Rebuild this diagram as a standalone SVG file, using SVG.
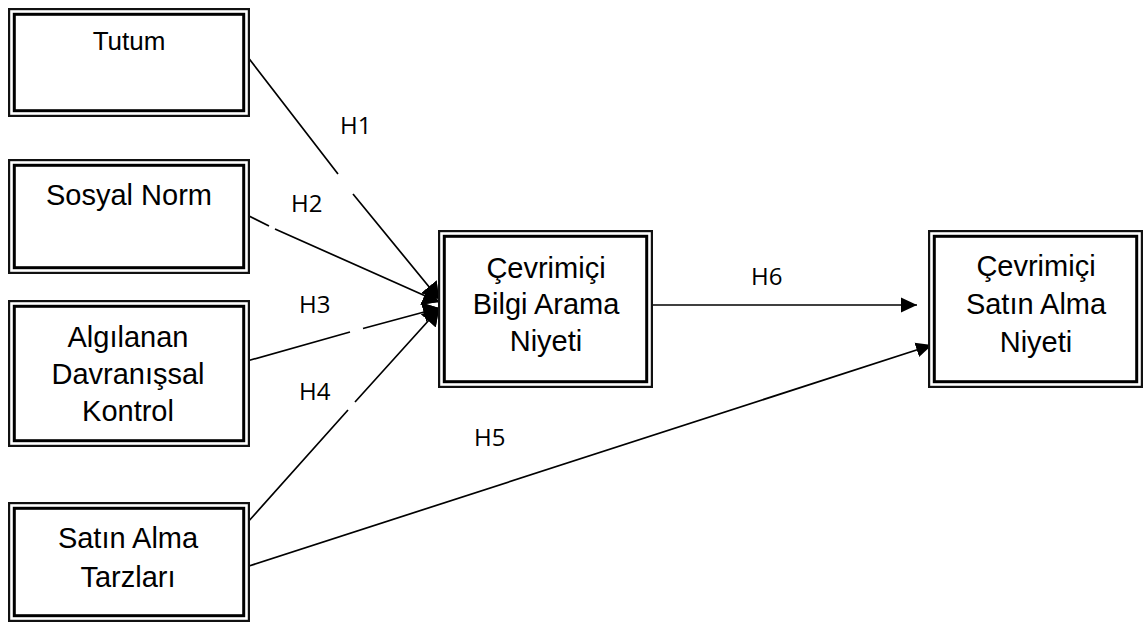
<svg xmlns="http://www.w3.org/2000/svg" width="1144" height="622" viewBox="0 0 1144 622">
  <style>
    .o { fill: #fff; stroke: #111; stroke-width: 2.2; }
    .i { fill: none; stroke: #000; stroke-width: 3; }
    .t { font-family: "Liberation Sans", Arimo, Arial, sans-serif; font-size: 29px; fill: #000; text-anchor: middle; }
    .h { font-family: "Open Sans", "Noto Sans", sans-serif; font-size: 24px; fill: #000; }
    .c { fill: none; stroke: #000; stroke-width: 1.7; }
  </style>
  <defs>
    <marker id="arrow" markerUnits="userSpaceOnUse" markerWidth="18" markerHeight="18" viewBox="0 0 18 18" refX="16" refY="9" orient="auto">
      <path d="M0,1.5 L16,9 L0,16.5 Z" fill="#000"/>
    </marker>
    <!-- broader head for the four converging paths, so they merge at the target edge -->
    <marker id="arrowWide" markerUnits="userSpaceOnUse" markerWidth="18" markerHeight="24" viewBox="0 0 18 24" refX="16" refY="12" orient="auto">
      <path d="M0,2 Q6,12 0,22 L16,12 Z" fill="#000"/>
      <path d="M0,2 L16,12 L0,22 Z" fill="#000"/>
    </marker>
  </defs>
  <rect width="1144" height="622" fill="#fff"/>

  <!-- connectors -->
  <g id="connectors">
    <path id="h1" class="c" d="M247,56 L338,174 M353,194 L439,299" marker-end="url(#arrowWide)"/>
    <path id="h2" class="c" d="M247,215 L269,226 M275,229 L439,302" marker-end="url(#arrowWide)"/>
    <path id="h3" class="c" d="M247,361 L350,332 M363,328.5 L439,308" marker-end="url(#arrowWide)"/>
    <path id="h4" class="c" d="M247,523 L348,410 M355,402 L439,309" marker-end="url(#arrowWide)"/>
    <path id="h5" class="c" d="M249,566 L932,345" marker-end="url(#arrow)"/>
    <path id="h6" class="c" d="M652,305 L917,305" marker-end="url(#arrow)"/>
  </g>

  <!-- hypothesis labels -->
  <g id="labels">
    <text class="h" x="340" y="134">H1</text>
    <text class="h" x="291" y="212">H2</text>
    <text class="h" x="299" y="313">H3</text>
    <text class="h" x="299" y="400">H4</text>
    <text class="h" x="474" y="446">H5</text>
    <text class="h" x="751" y="285">H6</text>
  </g>

  <g id="tutum">
    <rect class="o" x="9.1" y="9.1" width="239.8" height="106.8"/>
    <rect class="i" x="14.3" y="14.3" width="229.4" height="96.4"/>
    <text class="t" x="129" y="50" style="font-size:26px">Tutum</text>
  </g>

  <g id="sosyal-norm">
    <rect class="o" x="9.1" y="160.1" width="239.8" height="112.8"/>
    <rect class="i" x="14.3" y="165.3" width="229.4" height="102.4"/>
    <text class="t" x="129" y="205">Sosyal Norm</text>
  </g>

  <g id="algilanan">
    <rect class="o" x="9.1" y="301.1" width="239.8" height="144.8"/>
    <rect class="i" x="14.3" y="306.3" width="229.4" height="134.4"/>
    <text class="t" x="128" y="347">Algılanan</text>
    <text class="t" x="128" y="384">Davranışsal</text>
    <text class="t" x="128" y="421">Kontrol</text>
  </g>

  <g id="satin-alma-tarzlari">
    <rect class="o" x="9.1" y="503.1" width="239.8" height="117.8"/>
    <rect class="i" x="14.3" y="508.3" width="229.4" height="107.4"/>
    <text class="t" x="128" y="548">Satın Alma</text>
    <text class="t" x="128" y="587">Tarzları</text>
  </g>

  <g id="bilgi-arama">
    <rect class="o" x="439.1" y="231.1" width="212.8" height="155.8"/>
    <rect class="i" x="444.3" y="236.3" width="202.4" height="145.4"/>
    <text class="t" x="546" y="278">Çevrimiçi</text>
    <text class="t" x="546" y="314">Bilgi Arama</text>
    <text class="t" x="546" y="351">Niyeti</text>
  </g>

  <g id="satin-alma-niyeti">
    <rect class="o" x="929.1" y="231.1" width="212.8" height="155.8"/>
    <rect class="i" x="934.3" y="236.3" width="202.4" height="145.4"/>
    <text class="t" x="1036" y="276">Çevrimiçi</text>
    <text class="t" x="1036" y="314">Satın Alma</text>
    <text class="t" x="1036" y="352">Niyeti</text>
  </g>
</svg>
